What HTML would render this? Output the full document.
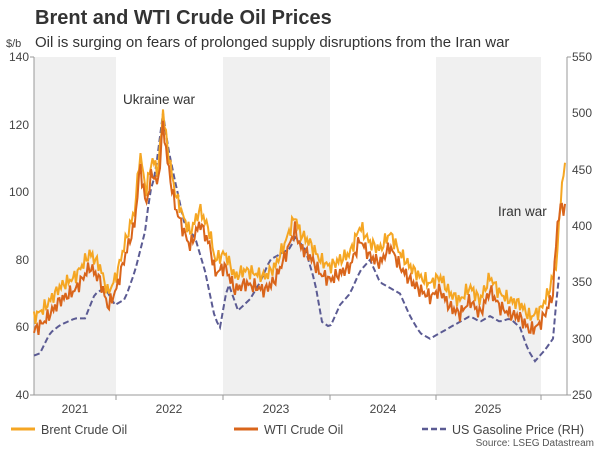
<!DOCTYPE html>
<html><head><meta charset="utf-8"><style>
body{margin:0;background:#fff;width:600px;height:449px;overflow:hidden;font-family:"Liberation Sans",Arial,sans-serif;}
</style></head><body>
<svg id="s" width="600" height="449" xmlns="http://www.w3.org/2000/svg" font-family="Liberation Sans, Arial, sans-serif">
<rect width="600" height="449" fill="#fff"/>
<rect x="34" y="57" width="82" height="338" fill="#f0f0f0"/>
<rect x="223" y="57" width="107" height="338" fill="#f0f0f0"/>
<rect x="436" y="57" width="105" height="338" fill="#f0f0f0"/>
<text x="35" y="24" font-size="20" font-weight="bold" fill="#333">Brent and WTI Crude Oil Prices</text>
<text x="35" y="47" font-size="15" fill="#333">Oil is surging on fears of prolonged supply disruptions from the Iran war</text>
<text x="6" y="47" font-size="11" fill="#444">$/b</text>
<g font-size="12" fill="#444" text-anchor="end">
<text x="29" y="61">140</text><text x="29" y="129">120</text><text x="29" y="196">100</text><text x="29" y="264">80</text><text x="29" y="331">60</text><text x="29" y="399">40</text>
</g>
<g font-size="12" fill="#444">
<text x="572" y="61">550</text><text x="572" y="117">500</text><text x="572" y="174">450</text><text x="572" y="230">400</text><text x="572" y="286">350</text><text x="572" y="343">300</text><text x="572" y="399">250</text>
</g>
<g stroke="#999" stroke-width="1">
<line x1="34" y1="57" x2="34" y2="395"/><line x1="30" y1="57" x2="34" y2="57"/><line x1="30" y1="395" x2="567" y2="395"/>
<line x1="567" y1="57" x2="567" y2="395"/><line x1="567" y1="57" x2="571" y2="57"/><line x1="567" y1="395" x2="571" y2="395"/>
<line x1="116" y1="395" x2="116" y2="400"/><line x1="223" y1="395" x2="223" y2="400"/><line x1="330" y1="395" x2="330" y2="400"/><line x1="436" y1="395" x2="436" y2="400"/><line x1="541" y1="395" x2="541" y2="400"/>
</g>
<g font-size="12" fill="#444" text-anchor="middle">
<text x="75" y="413">2021</text><text x="169" y="413">2022</text><text x="276" y="413">2023</text><text x="383" y="413">2024</text><text x="488" y="413">2025</text>
</g>
<text x="123" y="104" font-size="13.5" fill="#333">Ukraine war</text>
<text x="498" y="216" font-size="13.5" fill="#333">Iran war</text>
<g id="series"></g>
<line x1="11" y1="429" x2="35" y2="429" stroke="#f5a623" stroke-width="3"/>
<text x="41" y="434" font-size="12.5" fill="#444">Brent Crude Oil</text>
<line x1="234" y1="429" x2="258" y2="429" stroke="#d9651b" stroke-width="3"/>
<text x="264" y="434" font-size="12.5" fill="#444">WTI Crude Oil</text>
<line x1="422" y1="429" x2="448" y2="429" stroke="#5b5b93" stroke-width="2.5" stroke-dasharray="6,3"/>
<text x="452" y="434" font-size="12.5" fill="#444">US Gasoline Price (RH)</text>
<text x="594" y="446" font-size="10" fill="#555" text-anchor="end">Source: LSEG Datastream</text>
</svg>
<script>
function yl(v){return 395-(v-40)*3.38;}
function yr(v){return 395-(v-250)*1.1267;}
function interp(k,x){for(let i=0;i<k.length-1;i++){if(x>=k[i][0]&&x<=k[i+1][0]){let t=(x-k[i][0])/(k[i+1][0]-k[i][0]);return k[i][1]+t*(k[i+1][1]-k[i][1]);}}return k[k.length-1][1];}
var brent=[[34,63],[45,66],[60,72],[75,75],[90,82],[100,78],[108,70],[116,75],[125,85],[135,95],[140,112],[146,100],[152,110],[158,106],[163,124],[168,112],[175,100],[183,93],[190,88],[200,95],[210,88],[215,80],[225,82],[235,75],[245,77],[255,76],[265,75],[275,78],[285,85],[295,93],[300,88],[310,85],[320,80],[330,78],[340,80],[350,82],[360,90],[370,85],[380,83],[390,88],[400,82],[410,78],[420,75],[430,73],[440,75],[450,70],[460,68],[470,72],[480,68],[490,75],[500,70],[510,68],[520,67],[530,63],[540,65],[548,70],[553,75],[557,80],[561,100],[565,108]];
var wti=brent.map(p=>[p[0],p[1]-4]);
wti[wti.length-4]=[553,70];wti[wti.length-3]=[557,90];wti[wti.length-2]=[561,96];wti[wti.length-1]=[565,95];
var gas=[[34,285],[40,287],[50,305],[60,312],[75,318],[85,318],[95,340],[105,345],[115,330],[125,335],[135,360],[145,395],[150,430],[155,445],[163,500],[168,470],[175,440],[185,400],[195,390],[205,360],[215,318],[220,310],[228,350],[238,325],[250,335],[260,350],[270,370],[280,375],[290,380],[295,390],[305,380],[315,350],[322,315],[330,310],[340,330],[350,340],[360,360],[370,370],[380,350],[390,345],[400,340],[410,320],[420,305],[430,300],[440,305],[450,310],[460,315],[470,320],[480,315],[490,320],[500,315],[510,318],[520,310],[528,290],[535,280],[545,290],[553,300],[557,340],[561,370]];
function path(k,fy,noise,seed,step,end){let d="";for(let x=34;x<=end;x+=step){let v=interp(k,x);if(noise)v+=noise*(Math.sin(x*1.7+seed)*0.6+Math.sin(x*3.1+seed*2)*0.4);d+=(d?"L":"M")+x.toFixed(1)+","+fy(v).toFixed(1);}return d;}
var g=document.getElementById("series");
g.innerHTML='<path d="'+path(gas,yr,0,0,3,561)+'" fill="none" stroke="#5b5b93" stroke-width="2" stroke-dasharray="6,3"/>'+
'<path d="'+path(brent,yl,2.5,1,1.5,565)+'" fill="none" stroke="#f5a623" stroke-width="2"/>'+
'<path d="'+path(wti,yl,2.5,2.3,1.5,565)+'" fill="none" stroke="#d9651b" stroke-width="2"/>';
</script>
</body></html>
